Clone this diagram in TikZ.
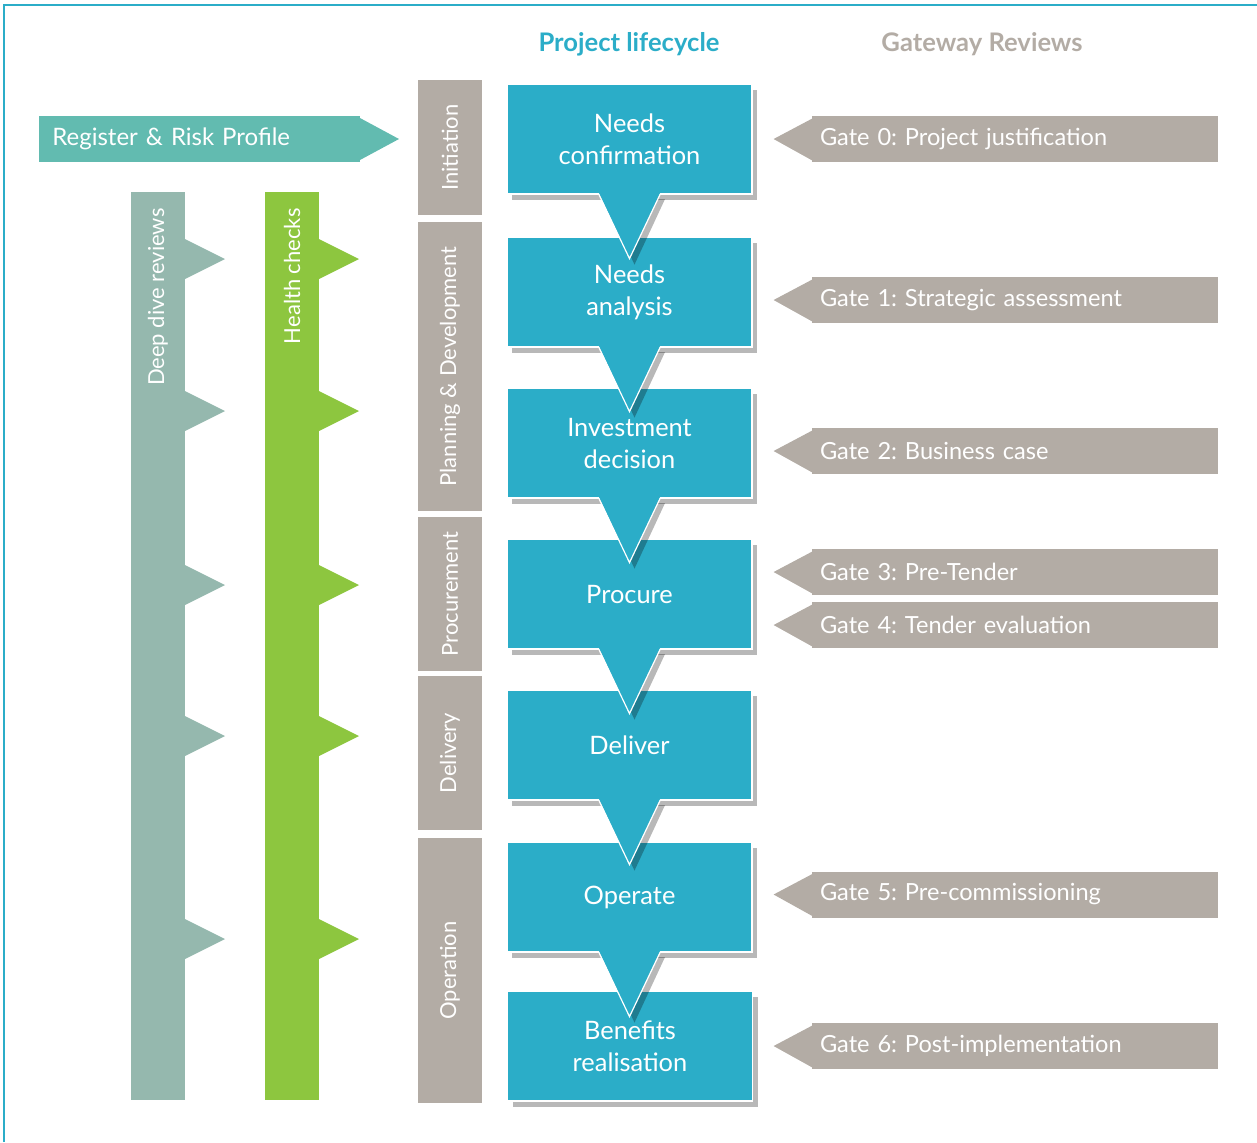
\documentclass[tikz,border=0pt]{standalone}
\usepackage{fontspec}
\setmainfont{Lato}
\usetikzlibrary{calc,shadows}
\definecolor{lifecyan}{HTML}{2BADC8}
\definecolor{gategrey}{HTML}{B3ACA5}
\definecolor{regteal}{HTML}{62BBB0}
\definecolor{deepgrey}{HTML}{95B8AE}
\definecolor{healthgreen}{HTML}{8DC63F}
\frenchspacing
\begin{document}
\begin{tikzpicture}[x=0.5pt, y=-0.5pt,
		boxshadow/.style={drop shadow={shadow xshift=2.5pt, shadow yshift=-3pt, fill=black, opacity=0.28}},
		stagebox/.style={fill=lifecyan, draw=white, line width=0.6pt, text=white, align=center, inner sep=0pt,
			minimum width=122.5pt, minimum height=55pt, font=\fontsize{12.7}{16}\selectfont, boxshadow},
		stagetip/.style={fill=lifecyan, boxshadow},
		gatebox/.style={fill=gategrey, text=white, inner xsep=4pt, inner ysep=0pt, text width=195pt, align=left,
			minimum height=23pt, font=\fontsize{11.8}{13}\selectfont},
		phasebar/.style={fill=gategrey, text=white, rotate=90, inner sep=0pt, minimum height=32pt,
			font=\fontsize{11}{13}\selectfont},
		sidelabel/.style={text=white, rotate=90, anchor=east, inner sep=0pt, font=\fontsize{11}{13}\selectfont},
		headline/.style={font=\fontsize{12.8}{15}\selectfont\bfseries}]
	\useasboundingbox (0,0) rectangle (1257,1142);
	% frame
	\draw[lifecyan, line width=1pt] (4,1142) -- (4,5) -- (1257,5);
	% headings
	\node[headline, text=lifecyan] (hlife) at (629,44) {Project lifecycle};
	\node[headline, text=gategrey] (hgate) at (982,44) {Gateway Reviews};
	% register & risk profile
	\fill[regteal] (360,118) -- (399,139) -- (360,160) -- cycle;
	\node[fill=regteal, text=white, anchor=west, inner xsep=6.5pt, inner ysep=0pt, text width=147.5pt, align=left,
		minimum height=23pt, font=\fontsize{12}{14}\selectfont] (reg) at (39,139) {Register \& Risk Profile};
	% deep dive reviews and health checks
	\fill[deepgrey] (131,192) rectangle (185,1100);
	\fill[healthgreen] (265,192) rectangle (319,1100);
	\foreach \ty in {259,411,585,736,939} {
		\fill[deepgrey] (185,\ty-20) -- (225,\ty) -- (185,\ty+20) -- cycle;
		\fill[healthgreen] (319,\ty-20) -- (359,\ty) -- (319,\ty+20) -- cycle;
	}
	\node[sidelabel] (deep) at (158,208) {Deep dive reviews};
	\node[sidelabel] (health) at (292,208) {Health checks};
	% phases
	\node[phasebar, minimum width=67.5pt] (ph0) at (450,147.5) {Initiation};
	\node[phasebar, minimum width=144.5pt] (ph1) at (450,366.5) {Planning \& Development};
	\node[phasebar, minimum width=77pt] (ph2) at (450,594) {Procurement};
	\node[phasebar, minimum width=77pt] (ph3) at (450,753) {Delivery};
	\node[phasebar, minimum width=132.5pt] (ph4) at (450,970.5) {Operation};
	% lifecycle stages
	\node[stagebox] (s0) at (629.5,139) {Needs\\confirmation};
	\node[stagebox] (s1) at (629.5,292) {Needs\\analysis};
	\node[stagebox] (s2) at (629.5,443) {Investment\\decision};
	\node[stagebox] (s3) at (629.5,594) {Procure};
	\node[stagebox] (s4) at (629.5,745) {Deliver};
	\node[stagebox] (s5) at (629.5,897) {Operate};
	\node[stagebox] (s6) at (630,1046) {Benefits\\realisation};
	\foreach \s in {s0,s1,s2,s3,s4,s5} {
		\path[stagetip] ($(\s.south)+(-30.5,-1.5)$) -- ($(\s.south)+(0,64)$) -- ($(\s.south)+(30.5,-1.5)$) -- cycle;
		\draw[white, line width=0.6pt] ($(\s.south)+(-30.5,0)$) -- ($(\s.south)+(0,64)$) -- ($(\s.south)+(30.5,0)$);
	}
	% gateway reviews
	\node[gatebox] (g0) at (1015,139) {Gate 0: Project justification};
	\node[gatebox] (g1) at (1015,300) {Gate 1: Strategic assessment};
	\node[gatebox] (g2) at (1015,451) {Gate 2: Business case};
	\node[gatebox] (g3) at (1015,572) {Gate 3: Pre-Tender};
	\node[gatebox] (g4) at (1015,625) {Gate 4: Tender evaluation};
	\node[gatebox] (g5) at (1015,894.5) {Gate 5: Pre-commissioning};
	\node[gatebox] (g6) at (1015,1046) {Gate 6: Post-implementation};
	\foreach \g in {g0,g1,g2,g3,g4,g5,g6}
		\fill[gategrey] ($(\g.north west)+(0.5,3)$) -- ($(\g.west)+(-38,0)$) -- ($(\g.south west)+(0.5,-2)$) -- cycle;
\end{tikzpicture}
\end{document}
